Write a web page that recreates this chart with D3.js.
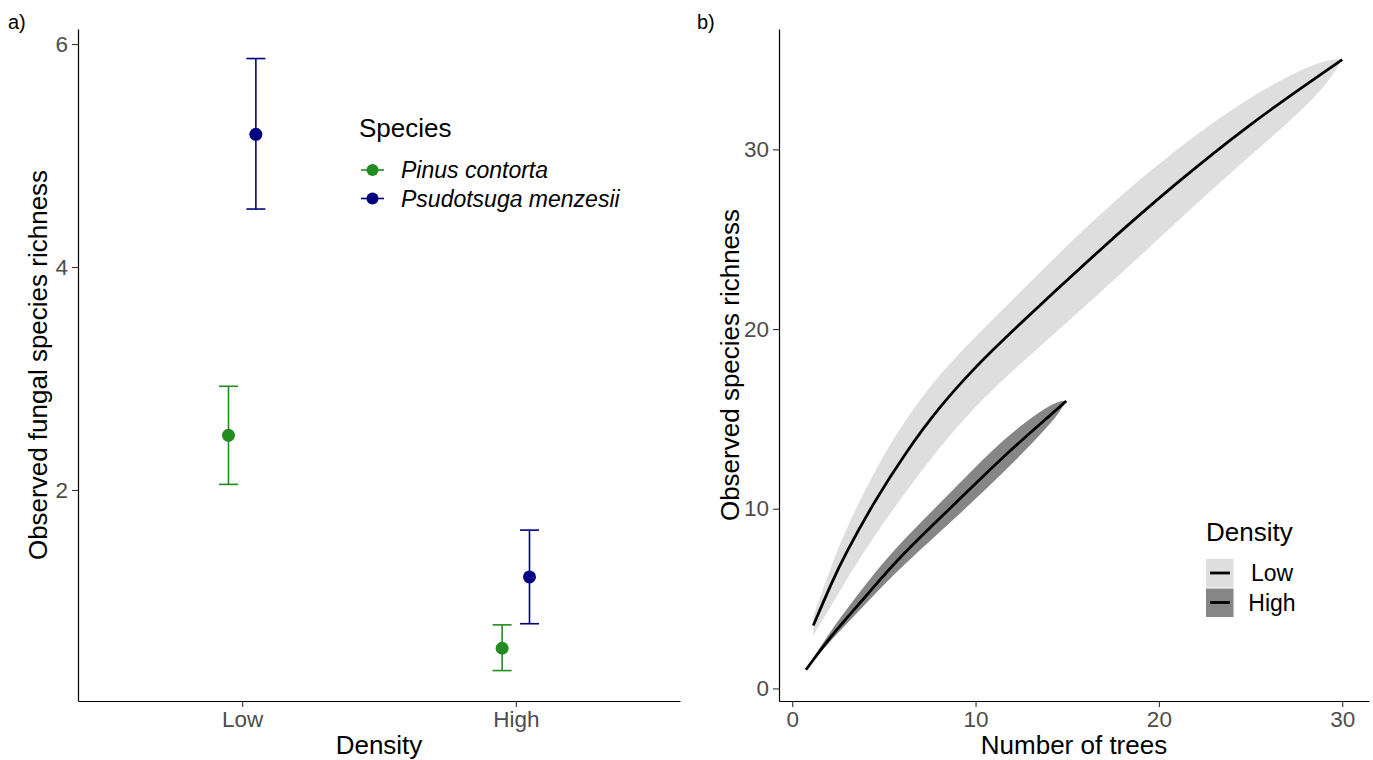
<!DOCTYPE html>
<html>
<head>
<meta charset="utf-8">
<script src="https://cdn.jsdelivr.net/npm/d3@7"></script>
<style>
  body { margin: 0; background: #fff; }
  text { font-family: "Liberation Sans", Arial, sans-serif; }
</style>
</head>
<body>
<script>
// panel a) data
var densityLevels = ["Low", "High"];
var speciesNames = ["Pinus contorta", "Psudotsuga menzesii"];
var speciesColors = ["#228B22", "#000080"];
var richMean  = [[2.49, 0.58], [5.19, 1.22]];   // [species][density]
var richLower = [[2.05, 0.38], [4.52, 0.80]];
var richUpper = [[2.93, 0.79], [5.87, 1.64]];
var yTicksA = [2, 4, 6];

// panel b) data, rarefaction curves
var lowTrees = [1.15, 2.2, 2.86, 4.41, 6.23, 8.05, 9.86, 11.69, 16.8, 20.9, 25, 28.8, 30];
var lowRich  = [3.5, 6.0, 7.4, 10.3, 13.2, 15.7, 17.75, 19.6, 24.45, 28.1, 31.45, 34.15, 35];
var lowLo    = [2.95, 4.7, 5.9, 8.4, 11.0, 13.45, 15.55, 17.4, 22.0, 25.9, 29.7, 33.0, 35];
var lowHi    = [4.0, 7.0, 8.7, 12.0, 15.1, 17.5, 19.45, 21.3, 26.5, 30.0, 33.0, 35, 35];
var highTrees = [0.75, 2.2, 4.05, 5.68, 8.6, 11.69, 14.3, 14.95];
var highRich  = [1.04, 3.05, 5.15, 7.14, 10.0, 13.09, 15.4, 16.0];
var highLo    = [1.04, 2.8, 4.75, 6.5, 9.2, 12.16, 14.9, 16.0];
var highHi    = [1.04, 3.4, 5.85, 7.9, 10.85, 14.1, 16.0, 16.0];
var xTicksB = [0, 10, 20, 30];
var yTicksB = [0, 10, 20, 30];

var W = 1373, H = 760;
var tickCol = "#4D4D4D";

var svg = d3.select("body").append("svg").attr("width", W).attr("height", H);

function styleAxis(g) {
  g.select(".domain").attr("stroke", "#000").attr("stroke-width", 1.2);
  g.selectAll(".tick line").attr("stroke", "#333").attr("stroke-width", 1.1);
  g.selectAll(".tick text").attr("fill", tickCol).style("font-size", "22.5px")
    .style("font-family", "'Liberation Sans', Arial, sans-serif");
}

///////////////////////////////////////
// panel a
var ax0 = 78, ax1 = 680, ay0 = 29, ay1 = 701;

// discrete axis: levels at 1 and 2, expanded by 0.6 each side
var xA = d3.scaleLinear().domain([0.4, 2.6]).range([ax0, ax1]);
var yA = d3.scaleLinear().domain([0.107, 6.135]).range([ay1, ay0]);

var gA = svg.append("g");
var dodge = [-0.05, 0.05];

speciesNames.forEach(function (sp, s) {
  densityLevels.forEach(function (lv, d) {
    var cx = xA(d + 1 + dodge[s]);
    var g = gA.append("g").attr("stroke", speciesColors[s]).attr("stroke-width", 1.6);
    g.append("line").attr("x1", cx).attr("x2", cx)
      .attr("y1", yA(richLower[s][d])).attr("y2", yA(richUpper[s][d]));
    g.append("line").attr("x1", cx - 9.5).attr("x2", cx + 9.5)
      .attr("y1", yA(richLower[s][d])).attr("y2", yA(richLower[s][d]));
    g.append("line").attr("x1", cx - 9.5).attr("x2", cx + 9.5)
      .attr("y1", yA(richUpper[s][d])).attr("y2", yA(richUpper[s][d]));
    gA.append("circle").attr("cx", cx).attr("cy", yA(richMean[s][d]))
      .attr("r", 6.5).attr("fill", speciesColors[s]);
  });
});

var xAxisA = d3.axisBottom(xA).tickValues([1, 2]).tickFormat(function (d) { return densityLevels[d - 1]; })
  .tickSize(6).tickPadding(4).tickSizeOuter(0);
gA.append("g").attr("transform", "translate(0," + ay1 + ")").call(xAxisA).call(styleAxis);
var yAxisA = d3.axisLeft(yA).tickValues(yTicksA).tickFormat(d3.format("d"))
  .tickSize(6).tickPadding(4).tickSizeOuter(0);
gA.append("g").attr("transform", "translate(" + ax0 + ",0)").call(yAxisA).call(styleAxis);

svg.append("text").attr("x", (ax0 + ax1) / 2).attr("y", 754).attr("text-anchor", "middle")
  .style("font-size", "26px").text("Density");
svg.append("text").attr("transform", "translate(47," + (ay0 + ay1) / 2 + ") rotate(-90)")
  .attr("text-anchor", "middle").style("font-size", "26px").text("Observed fungal species richness");
svg.append("text").attr("x", 8).attr("y", 29).style("font-size", "20px").text("a)");

// species legend
var legA = svg.append("g").attr("transform", "translate(359,0)");
legA.append("text").attr("x", 0).attr("y", 137).style("font-size", "26px").text("Species");
speciesNames.forEach(function (sp, s) {
  var cy = 170 + s * 28.5;
  legA.append("line").attr("x1", 2).attr("x2", 25).attr("y1", cy).attr("y2", cy)
    .attr("stroke", speciesColors[s]).attr("stroke-width", 1.6);
  legA.append("circle").attr("cx", 13.5).attr("cy", cy).attr("r", 6).attr("fill", speciesColors[s]);
  legA.append("text").attr("x", 42).attr("y", cy + 8).style("font-size", "23px")
    .style("font-style", "italic").text(sp);
});

///////////////////////////////////////
// panel b
var bx0 = 779, bx1 = 1369, by0 = 29, by1 = 701;
var xB = d3.scaleLinear().domain([-0.72, 31.46]).range([bx0, bx1]);
var yB = d3.scaleLinear().domain([-0.7, 36.7]).range([by1, by0]);

var gB = svg.append("g");

function rows(xs, m, lo, hi) {
  return xs.map(function (x, i) { return { x: x, y: m[i], lo: lo[i], hi: hi[i] }; });
}
var curves = [
  { name: "Low",  fill: "#DEDEDE", data: rows(lowTrees, lowRich, lowLo, lowHi) },
  { name: "High", fill: "#868686", data: rows(highTrees, highRich, highLo, highHi) }
];

var area = d3.area().curve(d3.curveBasis)
  .x(function (d) { return xB(d.x); })
  .y0(function (d) { return yB(d.lo); })
  .y1(function (d) { return yB(d.hi); });
var line = d3.line().curve(d3.curveBasis)
  .x(function (d) { return xB(d.x); })
  .y(function (d) { return yB(d.y); });

curves.forEach(function (c) {
  gB.append("path").attr("d", area(c.data)).attr("fill", c.fill);
});
curves.forEach(function (c) {
  gB.append("path").attr("d", line(c.data)).attr("fill", "none")
    .attr("stroke", "#000").attr("stroke-width", 2.8);
});

var xAxisB = d3.axisBottom(xB).tickValues(xTicksB).tickSize(6).tickPadding(4).tickSizeOuter(0);
gB.append("g").attr("transform", "translate(0," + by1 + ")").call(xAxisB).call(styleAxis);
var yAxisB = d3.axisLeft(yB).tickValues(yTicksB).tickSize(6).tickPadding(4).tickSizeOuter(0);
gB.append("g").attr("transform", "translate(" + bx0 + ",0)").call(yAxisB).call(styleAxis);

svg.append("text").attr("x", (bx0 + bx1) / 2).attr("y", 754).attr("text-anchor", "middle")
  .style("font-size", "26px").text("Number of trees");
svg.append("text").attr("transform", "translate(739," + (by0 + by1) / 2 + ") rotate(-90)")
  .attr("text-anchor", "middle").style("font-size", "26px").text("Observed species richness");
svg.append("text").attr("x", 697).attr("y", 29).style("font-size", "20px").text("b)");

// density legend
var legB = svg.append("g").attr("transform", "translate(1206,0)");
legB.append("text").attr("x", 0).attr("y", 541).style("font-size", "26px").text("Density");
curves.forEach(function (c, i) {
  var top = 559 + i * 29.5;
  legB.append("rect").attr("x", 0).attr("y", top).attr("width", 27.5).attr("height", 28.5).attr("fill", c.fill);
  legB.append("line").attr("x1", 4).attr("x2", 24).attr("y1", top + 14).attr("y2", top + 14)
    .attr("stroke", "#000").attr("stroke-width", 2.8);
  legB.append("text").attr("x", 66).attr("y", top + 22).attr("text-anchor", "middle")
    .style("font-size", "23px").text(c.name);
});
</script>
</body>
</html>
